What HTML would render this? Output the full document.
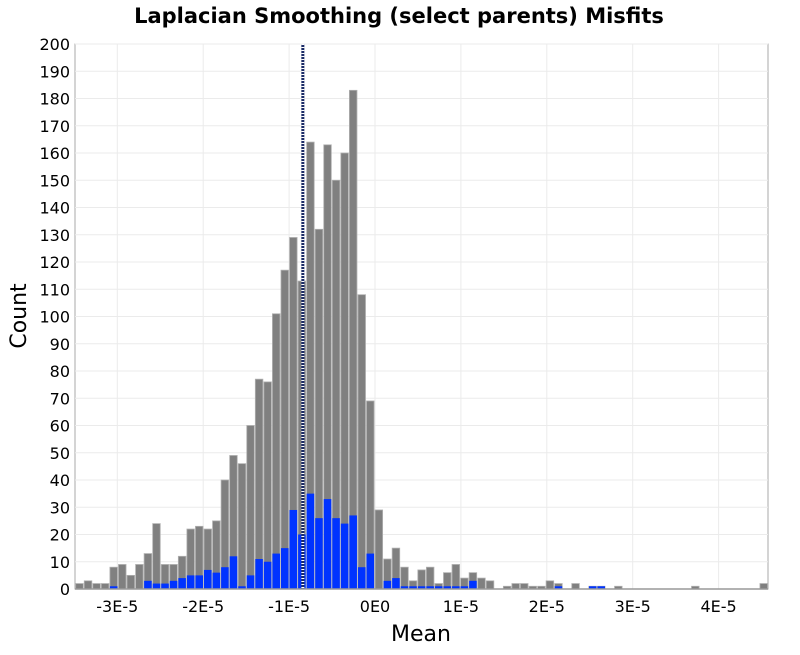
<!DOCTYPE html>
<html><head><meta charset="utf-8"><style>
body{margin:0;background:#fff;font-family:"Liberation Sans","DejaVu Sans",sans-serif}
</style></head><body>
<svg id="c" width="800" height="650" xmlns="http://www.w3.org/2000/svg" font-family="DejaVu Sans, Liberation Sans, sans-serif"></svg>
<script>
const totalCounts=[2,3,2,2,8,9,5,9,13,24,9,9,12,22,23,22,25,40,49,46,60,77,76,101,117,129,113,164,132,163,150,160,183,108,69,29,11,15,8,3,7,8,2,6,9,4,6,4,3,0,1,2,2,1,1,3,2,0,2,0,1,1,0,1,0,0,0,0,0,0,0,0,1,0,0,0,0,0,0,0,2];
const selectedCounts=[0,0,0,0,1,0,0,0,3,2,2,3,4,5,5,7,6,8,12,1,5,11,10,13,15,29,20,35,26,33,26,24,27,8,13,0,3,4,1,1,1,1,1,1,1,1,3,0,0,0,0,0,0,0,0,0,1,0,0,0,1,1,0,0,0,0,0,0,0,0,0,0,0,0,0,0,0,0,0,0,0];
const binStart=-3.49e-5, binWidth=0.09957e-5;
const meanValue=-0.84e-5;
const xTicks=[-3e-5,-2e-5,-1e-5,0,1e-5,2e-5,3e-5,4e-5];
const xTickLabels=["-3E-5","-2E-5","-1E-5","0E0","1E-5","2E-5","3E-5","4E-5"];
const yTicks=[0,10,20,30,40,50,60,70,80,90,100,110,120,130,140,150,160,170,180,190,200];

const svg=document.getElementById('c');
const NS='http://www.w3.org/2000/svg';
const L=75,R=768,T=44,B=589;
const xs=v=>375+v*85.9e5;
const ys=v=>B-(v/200)*(B-T);
function mk(tag,attrs,parent){const e=document.createElementNS(NS,tag);for(const k in attrs)e.setAttribute(k,attrs[k]);(parent||svg).appendChild(e);return e;}

const plot=mk('rect',{x:L,y:T,width:R-L,height:B-T,fill:'#fff',stroke:'#aaa'});



yTicks.forEach(t=>{
  const g=mk('line',{x1:L,x2:R,y1:ys(t),y2:ys(t),stroke:'#ebebeb'});
  
  
  const lb=mk('text',{x:70,y:ys(t)+6,'text-anchor':'end','font-size':16,fill:'#000'});
  lb.textContent=t;
  
  
});
xTicks.forEach((t,i)=>{
  const g=mk('line',{x1:xs(t),x2:xs(t),y1:T,y2:B,stroke:'#ebebeb'});
  
  
  const lb=mk('text',{x:xs(t),y:612,'text-anchor':'middle','font-size':16,fill:'#000'});
  lb.textContent=xTickLabels[i];
  
  
});

totalCounts.forEach((c,i)=>{
  if(!c)return;
  const x0=xs(binStart+i*binWidth),x1=xs(binStart+(i+1)*binWidth);
  const r=mk('rect',{x:x0+0.5,y:ys(c),width:x1-x0-1,height:B-ys(c),fill:'#808080',stroke:'#b0b0b0','stroke-width':0.8});
  
  
  const s=selectedCounts[i];
  if(s){
    const b=mk('rect',{x:x0+0.5,y:ys(s),width:x1-x0-1,height:B-ys(s),fill:'#0033ff'});
    
    
  }
});

const mx=xs(meanValue);
const m1=mk('line',{x1:mx,x2:mx,y1:T,y2:B,stroke:'#1a2a66','stroke-width':3});


const m2=mk('line',{x1:mx,x2:mx,y1:T,y2:B,stroke:'#fff','stroke-width':3,'stroke-dasharray':'1 2'});



const ax=mk('line',{x1:L,x2:R,y1:B,y2:B,stroke:'#999','stroke-width':1.5});



const title=mk('text',{x:399,y:23,'text-anchor':'middle','font-size':21,'font-weight':'bold',fill:'#000'});
title.textContent='Laplacian Smoothing (select parents) Misfits';


const xt=mk('text',{x:421,y:641,'text-anchor':'middle','font-size':22,fill:'#000'});
xt.textContent='Mean';


const yt=mk('text',{x:0,y:0,'text-anchor':'middle','font-size':22,fill:'#000',transform:'translate(26,316) rotate(-90)'});
yt.textContent='Count';


</script>
</body></html>
